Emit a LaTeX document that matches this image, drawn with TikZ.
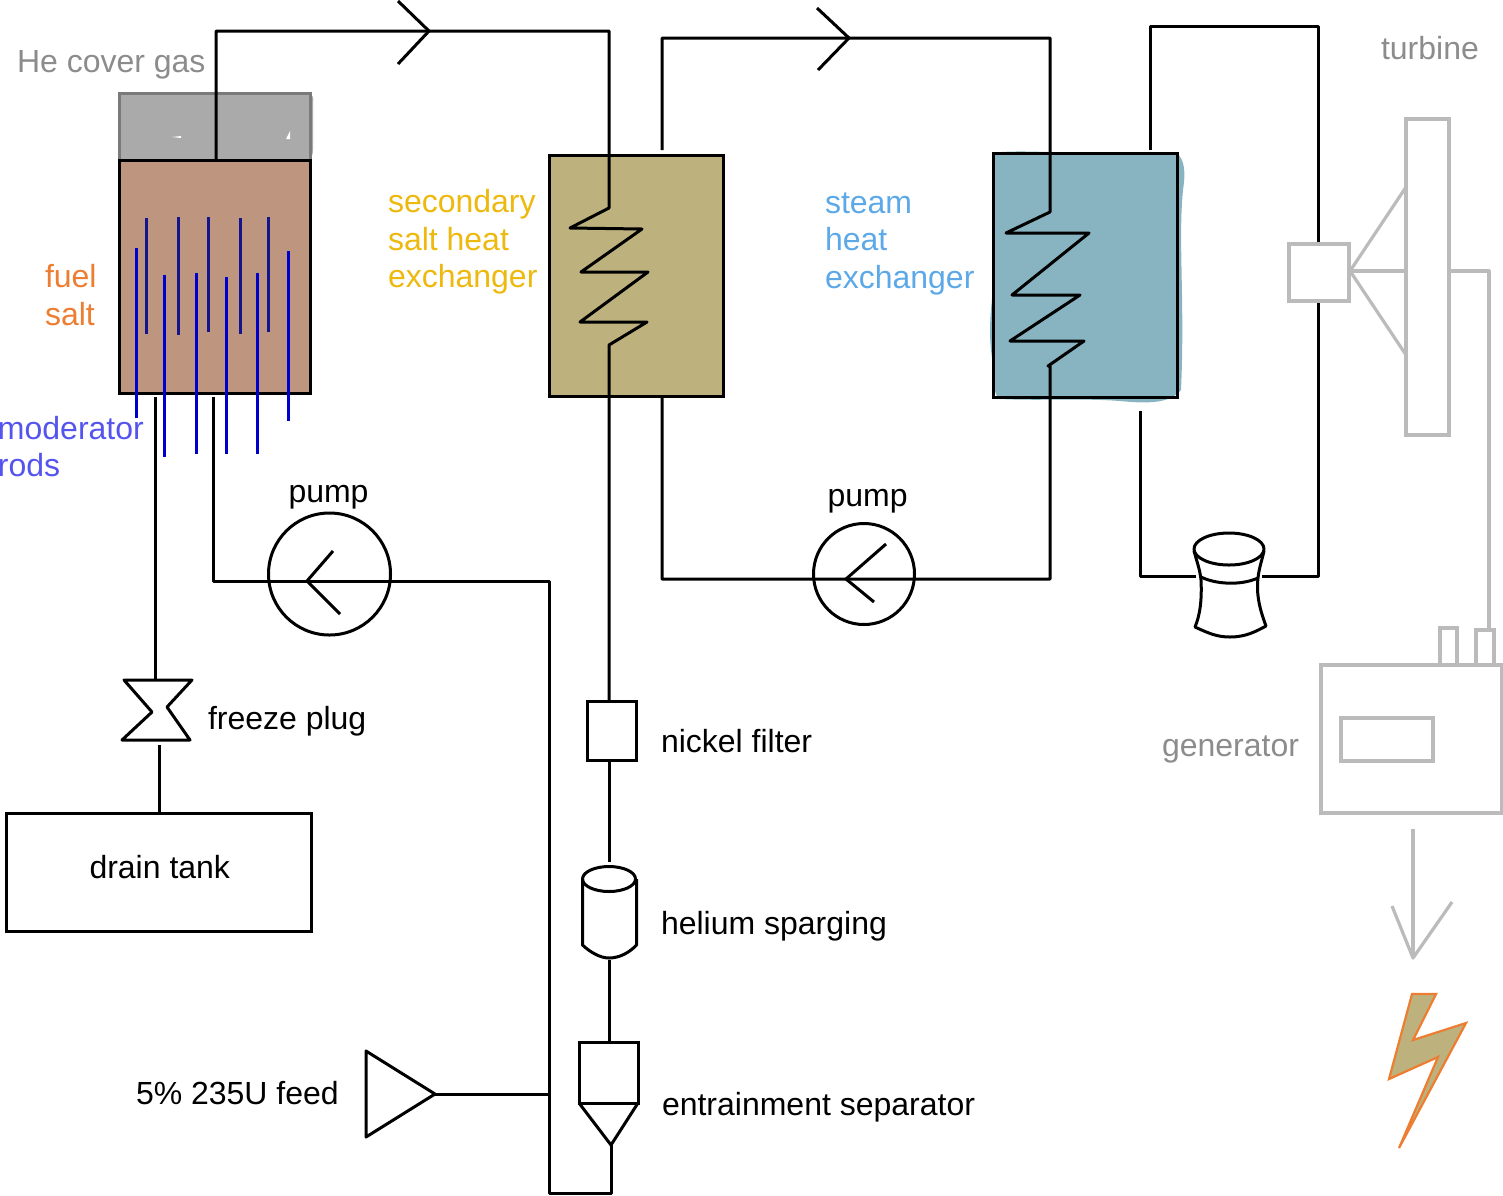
\documentclass[tikz,border=0pt]{standalone}
\usepackage{fontspec}
\setmainfont{Liberation Sans}
\definecolor{grayline}{HTML}{BBBBBB}
\definecolor{graytxt}{HTML}{8C8C8C}
\definecolor{covergray}{HTML}{AAAAAA}
\definecolor{coveredge}{HTML}{7A7A7A}
\definecolor{saltfill}{HTML}{BE9680}
\definecolor{secfill}{HTML}{BDB27E}
\definecolor{steamfill}{HTML}{87B4C0}
\definecolor{orangetxt}{HTML}{ED7D31}
\definecolor{yellowtxt}{HTML}{EDB90F}
\definecolor{bluetxt}{HTML}{5DA9E8}
\definecolor{purpletxt}{HTML}{5555EE}
\definecolor{rodup}{HTML}{14148C}
\definecolor{roddown}{HTML}{0000CC}
\tikzset{
  pipe/.style={draw=black,line width=3pt,line join=round},
  greypipe/.style={draw=grayline,line width=3.2pt,line join=round},
  boxshape/.style={draw=black,line width=3pt,inner sep=0pt,outer sep=0pt,rectangle},
  greybox/.style={draw=grayline,line width=3.2pt,inner sep=0pt,outer sep=0pt,rectangle},
  pumpshape/.style={draw=black,line width=3pt,circle,inner sep=0pt,outer sep=0pt},
  lbl/.style={anchor=base west,inner sep=0pt,outer sep=0pt,font=\fontsize{32}{32}\selectfont,text=black},
  rodtop/.style={draw=rodup,line width=3pt},
  rodlow/.style={draw=roddown,line width=3pt},
}
\begin{document}
\begin{tikzpicture}[x=1pt,y=-1pt]
\useasboundingbox (0,0) rectangle (1503,1195);
% coloured fills, slightly hand-painted
\fill[covergray] (122,94) -- (308,93) .. controls (313,94) and (314,98) .. (313,104) -- (313,150) .. controls (313,156) and (311,159) .. (306,160) -- (119,160) -- (119,96) -- cycle;
\fill[white] (172,137) -- (181,136) -- (181,138) -- cycle;
\fill[white] (286,139) -- (290,131) -- (290,139) -- cycle;
\fill[secfill] (549,155) -- (723,155) -- (723,396) .. controls (680,398) and (600,398) .. (549,396) -- cycle;
\fill[steamfill] (993,153) .. controls (1010,150) and (1050,152) .. (1100,154) .. controls (1130,155) and (1160,152) .. (1177,153) .. controls (1184,160) and (1186,170) .. (1183,190) .. controls (1178,240) and (1185,300) .. (1181,390) .. controls (1170,403) and (1150,404) .. (1120,401) .. controls (1080,398) and (1040,401) .. (1000,399) .. controls (992,395) and (995,380) .. (991,350) .. controls (988,320) and (993,300) .. (993,280) -- cycle;
% main vessels
\node[boxshape,draw=coveredge,minimum width=191pt,minimum height=67pt] (cover) at (214.5,126.5) {};
\node[boxshape,fill=saltfill,minimum width=191pt,minimum height=233pt] (reactor) at (214.5,276.5) {};
\node[boxshape,minimum width=174pt,minimum height=241pt] (secHX) at (636,275.5) {};
\node[boxshape,minimum width=184pt,minimum height=244pt] (steamHX) at (1085,275) {};
% rods
\foreach \x/\a/\b in {146/218/334,178/217/335,208/217/332,240/218/334,268/217/332}
  \draw[rodtop] (\x,\a) -- (\x,\b);
\foreach \x/\a/\b in {136/248/418,164/275/457,196/273/454,226/277/454,257/273/454,288/251/421}
  \draw[rodlow] (\x,\a) -- (\x,\b);
% named ends
\coordinate (reactorTop) at (216,160);
\coordinate (reactorOutA) at (155,397);
\coordinate (reactorOutB) at (213,397);
\coordinate (secIn) at (609,208);
\coordinate (secOut) at (609,345);
\coordinate (secTopB) at (662,150);
\coordinate (secBotB) at (662,396);
\coordinate (stIn) at (1050,212);
\coordinate (stOut) at (1050,366);
\coordinate (stTopB) at (1150,150);
\coordinate (stBotB) at (1140,411);
\coordinate (filterTop) at (609,701);
\coordinate (filterBot) at (609,760);
\coordinate (cylTop) at (609,862);
\coordinate (cylBot) at (609,960);
\coordinate (sepTop) at (609,1042);
\coordinate (sepTip) at (611,1145);
\coordinate (feedTip) at (435,1094);
\coordinate (joinFeed) at (549,1094);
\coordinate (valveTop) at (155,680);
\coordinate (valveBot) at (159,745);
\coordinate (drainTop) at (159,813);
\coordinate (condL) at (1196,576);
\coordinate (condR) at (1262,576);
\coordinate (turbBoxTop) at (1318,244);
\coordinate (turbBoxBot) at (1318,301);
% pumps
\node[pumpshape,minimum size=122pt] (pumpA) at (329.5,574) {};
\node[pumpshape,minimum size=101pt] (pumpB) at (864,574) {};
% equipment
\node[boxshape,minimum width=49pt,minimum height=59pt] (filter) at (611.5,730.5) {};
\node[boxshape,minimum width=59pt,minimum height=61pt] (separator) at (608.5,1072.5) {};
\node[boxshape,minimum width=305pt,minimum height=118pt] (drain) at (158.5,872) {};
% primary loop
\draw[pipe] (reactorTop) -- (216,31) -- (609,31) -- (secIn) -- (570,228) -- (642,229) -- (581,272) -- (648,272) -- (580,322) -- (647,322) -- (secOut) -- (filterTop);
\draw[pipe] (398,1) -- (429,31) -- (398,64);
\draw[pipe] (filterBot) -- (cylTop);
\draw[pipe] (cylBot) -- (sepTop);
\draw[pipe] (sepTip) -- (611,1193) -- (549,1193) -- (549,581) -- (213,581) -- (reactorOutB);
\draw[pipe] (333,551) -- (307,581) -- (340,614);
\draw[pipe] (feedTip) -- (joinFeed);
\draw[pipe] (366,1051) -- (feedTip) -- (366,1137) -- cycle;
\draw[pipe] (579,1103) -- (611,1145) -- (638,1103);
% drain line
\draw[pipe] (reactorOutA) -- (valveTop);
\draw[pipe] (124,680) -- (192,680) -- (167,707) -- (190,740) -- (122,740) -- (152,712) -- cycle;
\draw[pipe] (valveBot) -- (drainTop);
% cylinder
\draw[pipe] (609,879) ellipse [x radius=26.5,y radius=12.5];
\draw[pipe] (582.5,879) -- (582.5,945) .. controls (590,952) and (600,958) .. (609,958) .. controls (620,958) and (630,952) .. (636.5,945) -- (636.5,879);
% secondary loop
\draw[pipe] (secTopB) -- (662,38) -- (1050,38) -- (stIn) -- (1006,233) -- (1089,233) -- (1012,295) -- (1080,295) -- (1010,341) -- (1084,341) -- (1048,366) -- (stOut) -- (1050,579) -- (662,579) -- (secBotB);
\draw[pipe] (817,8) -- (849,38) -- (818,70);
\draw[pipe] (886,544) -- (846,579) -- (874,602);
% steam loop
\draw[pipe] (stTopB) -- (1150,26) -- (1318,26) -- (turbBoxTop);
\draw[pipe] (turbBoxBot) -- (1318,576) -- (condR);
\draw[pipe] (condL) -- (1140,576) -- (stBotB);
% condenser
\draw[pipe] (1229,549) ellipse [x radius=35,y radius=16];
\draw[pipe,line cap=round] (1194,551) .. controls (1197,562) and (1200,570) .. (1201,580) .. controls (1202,600) and (1200,615) .. (1195,627) .. controls (1210,634) and (1218,637) .. (1230,637) .. controls (1245,637) and (1255,632) .. (1266,626) .. controls (1260,610) and (1256,595) .. (1258,578) .. controls (1259,568) and (1262,560) .. (1264,551);
\draw[pipe] (1201,577) .. controls (1215,584) and (1240,586) .. (1258,578);
% turbine (grey)
\node[greybox,fill=white,minimum width=60pt,minimum height=57pt] (turbBox) at (1319,272.5) {};
\node[greybox,minimum width=43pt,minimum height=316pt] (turbine) at (1427.5,277) {};
\coordinate (hub) at (1350,271);
\draw[greypipe] (1406,187) -- (hub) -- (1406,355);
\draw[greypipe] (hub) -- (1406,271);
\node[greybox,minimum width=181pt,minimum height=148pt] (generator) at (1411.5,739) {};
\node[greybox,minimum width=92pt,minimum height=43pt] (genWindow) at (1387,739.5) {};
\node[greybox,minimum width=17pt,minimum height=37pt] (tabA) at (1448.5,646.5) {};
\node[greybox,minimum width=18pt,minimum height=35pt] (tabB) at (1485,647.5) {};
\coordinate (tabBTop) at (1489,630);
\coordinate (turbineOut) at (1449,271);
\draw[greypipe] (turbineOut) -- (1489,271) -- (tabBTop);
\coordinate (genOut) at (1413,829);
\coordinate (arrowTip) at (1413,958);
\draw[greypipe] (genOut) -- (arrowTip);
\draw[greypipe] (1392,906) -- (arrowTip) -- (1452,902);
% bolt
\draw[draw=orangetxt,fill=secfill,line width=2.2pt,line join=miter] (1412,994) -- (1436,994) -- (1413,1040) -- (1466,1023) -- (1399,1148) -- (1438,1057) -- (1389,1079) -- cycle;
% labels
\node[lbl,text=graytxt] (tHe) at (17,72) {He cover gas};
\node[lbl,text=orangetxt] (tFuelA) at (45,287) {fuel};
\node[lbl,text=orangetxt] (tFuelB) at (45,325) {salt};
\node[lbl,text=yellowtxt] (tSecA) at (388,212) {secondary};
\node[lbl,text=yellowtxt] (tSecB) at (388,250) {salt heat};
\node[lbl,text=yellowtxt] (tSecC) at (388,287) {exchanger};
\node[lbl,text=bluetxt] (tStA) at (825,213) {steam};
\node[lbl,text=bluetxt] (tStB) at (825,250) {heat};
\node[lbl,text=bluetxt] (tStC) at (825,288) {exchanger};
\node[lbl,text=purpletxt] (tModA) at (-2,439) {moderator};
\node[lbl,text=purpletxt] (tModB) at (-2,476) {rods};
\node[lbl,text=graytxt] (tTurb) at (1381,59) {turbine};
\node[lbl] (tPumpA) at (288.5,502) {pump};
\node[lbl] (tPumpB) at (827.5,506) {pump};
\node[lbl] (tFreeze) at (208,729) {freeze plug};
\node[lbl] (tDrain) at (89.5,878) {drain tank};
\node[lbl] (tNickel) at (661,752) {nickel filter};
\node[lbl] (tHelium) at (661,934) {helium sparging};
\node[lbl] (tEntr) at (662,1115) {entrainment separator};
\node[lbl] (tFeed) at (136,1104) {5\% 235U feed};
\node[lbl,text=graytxt] (tGen) at (1162,756) {generator};
\end{tikzpicture}
\end{document}
